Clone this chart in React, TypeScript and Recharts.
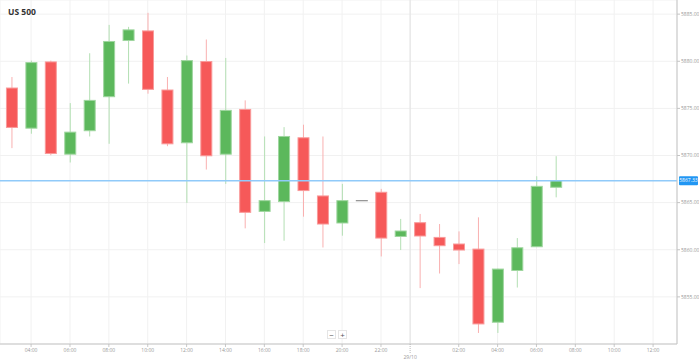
import React from 'react';
import { ComposedChart, Bar, XAxis, YAxis, CartesianGrid, ReferenceLine } from 'recharts';

const title = 'US 500';
// hours since 28/10 00:00
const hours = [3, 4, 5, 6, 7, 8, 9, 10, 11, 12, 13, 14, 15, 16, 17, 18, 19, 20, 21, 22, 23, 24, 25, 26, 27, 28, 29, 30, 31];
const opens = [5877.16, 5872.9, 5879.93, 5870.14, 5872.63, 5876.24, 5882.2, 5883.22, 5876.95, 5871.35, 5879.97, 5870.14, 5874.89, 5864.07, 5865.11, 5871.88, 5865.71, 5862.84, 5865.2, 5866.1, 5861.41, 5862.87, 5861.31, 5860.61, 5860.07, 5852.31, 5857.8, 5860.32, 5866.63];
const highs = [5878.33, 5880.07, 5880.07, 5875.56, 5880.85, 5883.86, 5883.65, 5885.14, 5878.33, 5880.61, 5882.31, 5880.35, 5875.85, 5872.02, 5873.01, 5873.27, 5872.02, 5866.99, 5865.2, 5866.46, 5863.27, 5863.8, 5862.73, 5861.95, 5863.44, 5858.0, 5861.24, 5867.8, 5869.93];
const lows = [5870.78, 5872.31, 5870.03, 5869.26, 5872.02, 5871.24, 5877.63, 5876.56, 5870.99, 5864.97, 5868.51, 5866.99, 5862.27, 5860.71, 5860.96, 5863.51, 5860.24, 5861.49, 5865.2, 5859.29, 5859.97, 5855.93, 5857.48, 5858.48, 5851.17, 5851.17, 5855.99, 5860.3, 5865.56];
const closes = [5872.98, 5879.86, 5870.21, 5872.48, 5875.85, 5882.1, 5883.33, 5877.02, 5871.24, 5880.07, 5869.97, 5874.79, 5863.97, 5865.21, 5872.02, 5866.28, 5862.73, 5865.21, 5865.2, 5861.24, 5861.99, 5861.46, 5860.43, 5859.97, 5852.13, 5857.95, 5860.21, 5866.73, 5867.33];

const xTicks = [4, 6, 8, 10, 12, 14, 16, 18, 20, 22, 23.5, 26, 28, 30, 32, 34, 36];
const yTicks = [5855, 5860, 5865, 5870, 5875, 5880, 5885];
const dateMarkerAt = 23.5;
const dateMarkerLabel = '29/10';
const currentPrice = 5867.33;

const data = hours.map((t, i) => ({
  t,
  o: opens[i],
  h: highs[i],
  l: lows[i],
  c: closes[i],
  range: [lows[i], highs[i]],
}));

const UP = '#5cb85c';
const UP_LIGHT = '#b3dfb3';
const DOWN = '#f65959';
const DOWN_LIGHT = '#f9b0b0';
const FONT = '"Open Sans", sans-serif';

const fmtHour = (v: number) => {
  const hh = ((Math.round(v) % 24) + 24) % 24;
  return String(hh).padStart(2, '0') + ':00';
};

const Candle = (props: any) => {
  const { x, y, width, height, payload } = props;
  if (payload == null || x == null) return null;
  const { o, h, l, c } = payload;
  const top = Math.min(y, y + height);
  const hgt = Math.abs(height);
  const cx = x + width / 2;
  const bw = 12;
  if (h === l || hgt === 0) {
    return <line x1={cx - bw / 2} x2={cx + bw / 2} y1={top} y2={top} stroke="#777" strokeWidth={1} />;
  }
  const k = hgt / (h - l);
  const py = (p: number) => top + (h - p) * k;
  const up = c >= o;
  const bTop = py(Math.max(o, c));
  const bBot = py(Math.min(o, c));
  return (
    <g>
      <line x1={cx} x2={cx} y1={py(h)} y2={py(l)} stroke={up ? UP_LIGHT : DOWN_LIGHT} strokeWidth={1} />
      <rect
        x={cx - bw / 2 + 0.5}
        y={bTop}
        width={bw - 1}
        height={Math.max(1, bBot - bTop)}
        fill={up ? UP : DOWN}
        stroke={up ? '#9fd69f' : '#f99a9a'}
        strokeWidth={1}
      />
    </g>
  );
};

const XTick = (props: any) => {
  const { x, y, payload } = props;
  const v = payload.value;
  if (v === dateMarkerAt) {
    return (
      <g>
        <line x1={x} x2={x} y1={y} y2={y + 9} stroke="#aaa" strokeDasharray="1 1" strokeWidth={0.8} />
        <text x={x} y={y + 15} fontSize={5} fill="#999" textAnchor="middle" fontFamily={FONT}>
          {dateMarkerLabel}
        </text>
      </g>
    );
  }
  return (
    <g>
      <line x1={x} x2={x} y1={y} y2={y + 3} stroke="#bbb" strokeWidth={0.8} />
      <text x={x} y={y + 7.5} fontSize={5} fill="#999" textAnchor="middle" fontFamily={FONT}>
        {fmtHour(v)}
      </text>
    </g>
  );
};

const PriceLabel = (props: any) => {
  const vb = props.viewBox || {};
  const { x = 0, y = 0, width = 0 } = vb;
  const lx = x + width + 2;
  return (
    <g>
      <rect x={lx} y={y - 4.5} width={19} height={9} fill="#2196f3" rx={1} />
      <text x={lx + 9.5} y={y + 1.8} fontSize={5} fill="#fff" textAnchor="middle" fontFamily={FONT}>
        {currentPrice.toFixed(2)}
      </text>
    </g>
  );
};

export default function App() {
  return (
    <div style={{ position: 'absolute', left: 0, top: 0, width: 699, height: 362, background: '#fff', fontFamily: FONT, overflow: 'hidden' }}>
      <ComposedChart width={699} height={362} data={data} margin={{ top: 0, right: 0, bottom: 0, left: 0 }}>
        <CartesianGrid stroke="#f1f1f1" strokeWidth={1} />
        <XAxis
          dataKey="t"
          type="number"
          domain={[2.4, 37.23]}
          ticks={xTicks}
          interval={0}
          allowDataOverflow
          height={18}
          tickLine={false}
          tickSize={0}
          tickMargin={0}
          axisLine={{ stroke: '#c4c4c4' }}
          tick={<XTick />}
        />
        <YAxis
          orientation="right"
          width={22}
          domain={[5850, 5886.5]}
          ticks={yTicks}
          interval={0}
          allowDataOverflow
          tickFormatter={(v: number) => v.toFixed(2)}
          tick={{ fontSize: 5, fill: '#999', fontFamily: FONT }}
          tickSize={3}
          tickMargin={1}
          tickLine={{ stroke: '#c4c4c4' }}
          axisLine={{ stroke: '#c4c4c4' }}
        />
        <ReferenceLine x={dateMarkerAt} stroke="#e2e2e2" strokeWidth={1} />
        <Bar dataKey="range" barSize={12} shape={<Candle />} isAnimationActive={false} />
        <ReferenceLine y={currentPrice} stroke="#90caf9" strokeWidth={1.5} label={<PriceLabel />} />
      </ComposedChart>
      <div style={{ position: 'absolute', left: 8, top: 6, fontSize: 8.5, lineHeight: '11px', fontWeight: 700, color: '#333' }}>{title}</div>
      <div style={{ position: 'absolute', left: 327, top: 330, width: 9, height: 9, border: '1px solid #e5e5e5', background: '#fff', fontSize: 8, lineHeight: '8px', textAlign: 'center', color: '#555', boxSizing: 'border-box' }}>−</div>
      <div style={{ position: 'absolute', left: 338, top: 330, width: 9, height: 9, border: '1px solid #e5e5e5', background: '#fff', fontSize: 8, lineHeight: '8px', textAlign: 'center', color: '#555', boxSizing: 'border-box' }}>+</div>
    </div>
  );
}
